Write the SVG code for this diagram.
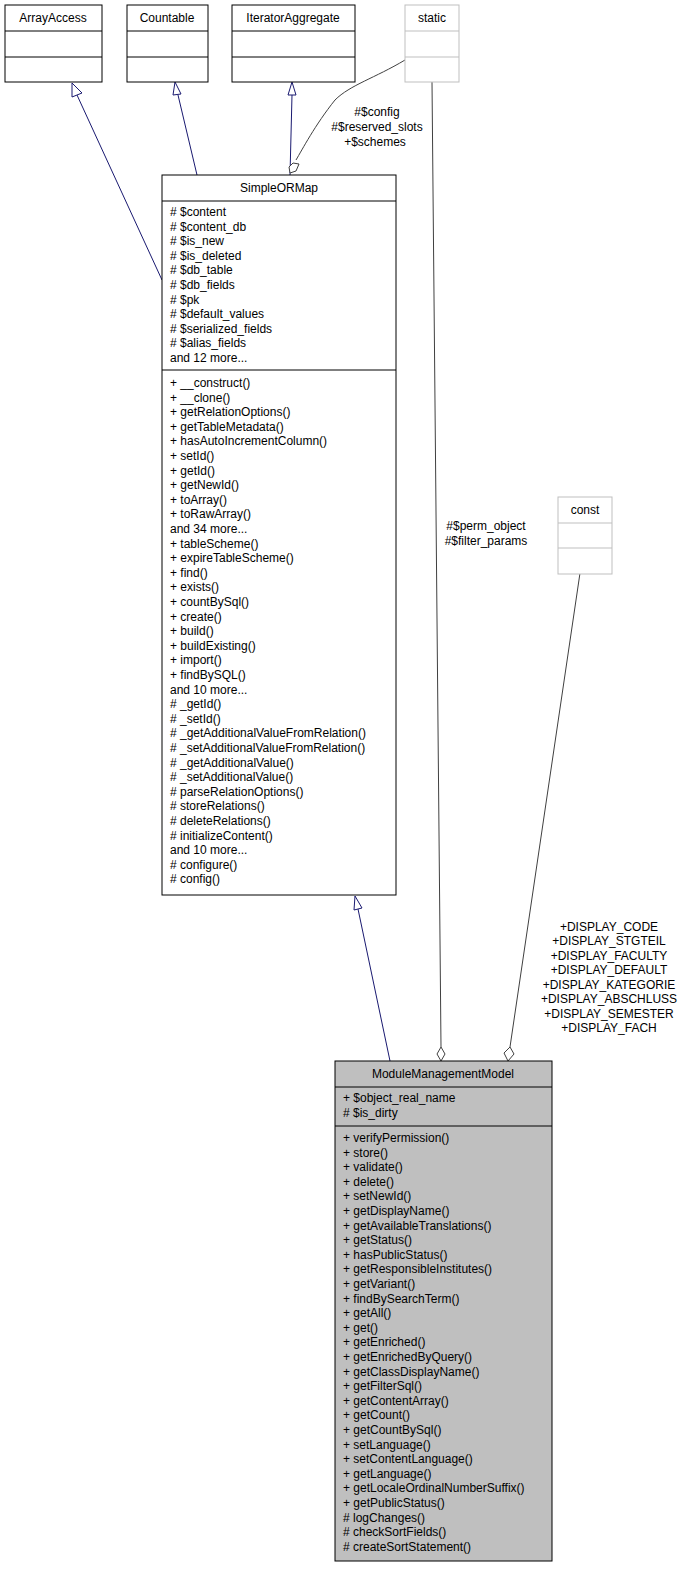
<svg xmlns="http://www.w3.org/2000/svg" width="693" height="1571" viewBox="0 0 693 1571">
<style>
text{font-family:"Liberation Sans",Arial,sans-serif;font-size:12px;fill:#000}
.c{text-anchor:middle}
.b{fill:#fff;stroke:#000;stroke-width:1}
.g{fill:#fff;stroke:#bfbfbf;stroke-width:1}
.m{fill:#bfbfbf;stroke:#000;stroke-width:1}
.i{fill:none;stroke:#191970;stroke-width:1}
.a{fill:none;stroke:#404040;stroke-width:1}
.ih{fill:#fff;stroke:#191970}
.dh{fill:#fff;stroke:#404040}
</style>
<rect width="693" height="1571" fill="#fff"/>
<g id="connectors">
<path class="i" d="M162,280 L77,95"/><polygon class="ih" points="72,83 82,93 72,97"/>
<path class="i" d="M197,175 L178,95"/><polygon class="ih" points="175,82 181,94 173,95"/>
<path class="i" d="M290,175 L292,95"/><polygon class="ih" points="292,82 296,95 288,95"/>
<path class="a" d="M405,60 C375,78 350,85 335,100 C315,125 302,150 296,160"/><polygon class="dh" points="293,163 299,164 296,171 290,173 289,167"/>
<path class="a" d="M432,82 L441,1047"/><polygon class="dh" points="441,1047 445,1054 441,1061 437,1054"/>
<path class="a" d="M580,573 L510,1047"/><polygon class="dh" points="510,1047 514,1054 508,1061 504,1053"/>
<path class="i" d="M390,1061 L358,909"/><polygon class="ih" points="355,896 362,908 354,910"/>
<text class="c" x="377" y="116">#$config</text>
<text class="c" x="377" y="131">#$reserved_slots</text>
<text class="c" x="375" y="146">+$schemes</text>
<text class="c" x="486" y="530">#$perm_object</text>
<text class="c" x="486" y="545">#$filter_params</text>
<text class="c" x="609" y="931">+DISPLAY_CODE</text>
<text class="c" x="609" y="945">+DISPLAY_STGTEIL</text>
<text class="c" x="609" y="960">+DISPLAY_FACULTY</text>
<text class="c" x="609" y="974">+DISPLAY_DEFAULT</text>
<text class="c" x="609" y="989">+DISPLAY_KATEGORIE</text>
<text class="c" x="609" y="1003">+DISPLAY_ABSCHLUSS</text>
<text class="c" x="609" y="1018">+DISPLAY_SEMESTER</text>
<text class="c" x="609" y="1032">+DISPLAY_FACH</text>
</g>
<g id="ArrayAccess"><rect class="b" x="5" y="5" width="97" height="77"/><path d="M5,31H102M5,57H102" stroke="#000"/><text class="c" x="53" y="22">ArrayAccess</text></g>
<g id="Countable"><rect class="b" x="127" y="5" width="81" height="77"/><path d="M127,31H208M127,57H208" stroke="#000"/><text class="c" x="167" y="22">Countable</text></g>
<g id="IteratorAggregate"><rect class="b" x="232" y="5" width="123" height="77"/><path d="M232,31H355M232,57H355" stroke="#000"/><text class="c" x="293" y="22">IteratorAggregate</text></g>
<g id="static"><rect class="g" x="405" y="5" width="54" height="77"/><path d="M405,31H459M405,57H459" stroke="#bfbfbf"/><text class="c" x="432" y="22">static</text></g>
<g id="const"><rect class="g" x="558" y="497" width="54" height="77"/><path d="M558,523H612M558,548H612" stroke="#bfbfbf"/><text class="c" x="585" y="514">const</text></g>
<g id="SimpleORMap"><rect class="b" x="162" y="175" width="234" height="720"/><path d="M162,201H396M162,370H396" stroke="#000"/>
<text class="c" x="279" y="192">SimpleORMap</text>
<text x="170"><tspan x="170" y="216"># $content</tspan><tspan x="170" dy="14.6"># $content_db</tspan><tspan x="170" dy="14.6"># $is_new</tspan><tspan x="170" dy="14.6"># $is_deleted</tspan><tspan x="170" dy="14.6"># $db_table</tspan><tspan x="170" dy="14.6"># $db_fields</tspan><tspan x="170" dy="14.6"># $pk</tspan><tspan x="170" dy="14.6"># $default_values</tspan><tspan x="170" dy="14.6"># $serialized_fields</tspan><tspan x="170" dy="14.6"># $alias_fields</tspan><tspan x="170" dy="14.6">and 12 more...</tspan></text>
<text><tspan x="170" y="387">+ __construct()</tspan><tspan x="170" dy="14.6">+ __clone()</tspan><tspan x="170" dy="14.6">+ getRelationOptions()</tspan><tspan x="170" dy="14.6">+ getTableMetadata()</tspan><tspan x="170" dy="14.6">+ hasAutoIncrementColumn()</tspan><tspan x="170" dy="14.6">+ setId()</tspan><tspan x="170" dy="14.6">+ getId()</tspan><tspan x="170" dy="14.6">+ getNewId()</tspan><tspan x="170" dy="14.6">+ toArray()</tspan><tspan x="170" dy="14.6">+ toRawArray()</tspan><tspan x="170" dy="14.6">and 34 more...</tspan><tspan x="170" dy="14.6">+ tableScheme()</tspan><tspan x="170" dy="14.6">+ expireTableScheme()</tspan><tspan x="170" dy="14.6">+ find()</tspan><tspan x="170" dy="14.6">+ exists()</tspan><tspan x="170" dy="14.6">+ countBySql()</tspan><tspan x="170" dy="14.6">+ create()</tspan><tspan x="170" dy="14.6">+ build()</tspan><tspan x="170" dy="14.6">+ buildExisting()</tspan><tspan x="170" dy="14.6">+ import()</tspan><tspan x="170" dy="14.6">+ findBySQL()</tspan><tspan x="170" dy="14.6">and 10 more...</tspan><tspan x="170" dy="14.6"># _getId()</tspan><tspan x="170" dy="14.6"># _setId()</tspan><tspan x="170" dy="14.6"># _getAdditionalValueFromRelation()</tspan><tspan x="170" dy="14.6"># _setAdditionalValueFromRelation()</tspan><tspan x="170" dy="14.6"># _getAdditionalValue()</tspan><tspan x="170" dy="14.6"># _setAdditionalValue()</tspan><tspan x="170" dy="14.6"># parseRelationOptions()</tspan><tspan x="170" dy="14.6"># storeRelations()</tspan><tspan x="170" dy="14.6"># deleteRelations()</tspan><tspan x="170" dy="14.6"># initializeContent()</tspan><tspan x="170" dy="14.6">and 10 more...</tspan><tspan x="170" dy="14.6"># configure()</tspan><tspan x="170" dy="14.6"># config()</tspan></text>
</g>
<g id="ModuleManagementModel"><rect class="m" x="335" y="1061" width="217" height="500"/><path d="M335,1087H552M335,1126H552" stroke="#000"/>
<text class="c" x="443" y="1078">ModuleManagementModel</text>
<text><tspan x="343" y="1102">+ $object_real_name</tspan><tspan x="343" dy="14.6"># $is_dirty</tspan></text>
<text><tspan x="343" y="1142">+ verifyPermission()</tspan><tspan x="343" dy="14.6">+ store()</tspan><tspan x="343" dy="14.6">+ validate()</tspan><tspan x="343" dy="14.6">+ delete()</tspan><tspan x="343" dy="14.6">+ setNewId()</tspan><tspan x="343" dy="14.6">+ getDisplayName()</tspan><tspan x="343" dy="14.6">+ getAvailableTranslations()</tspan><tspan x="343" dy="14.6">+ getStatus()</tspan><tspan x="343" dy="14.6">+ hasPublicStatus()</tspan><tspan x="343" dy="14.6">+ getResponsibleInstitutes()</tspan><tspan x="343" dy="14.6">+ getVariant()</tspan><tspan x="343" dy="14.6">+ findBySearchTerm()</tspan><tspan x="343" dy="14.6">+ getAll()</tspan><tspan x="343" dy="14.6">+ get()</tspan><tspan x="343" dy="14.6">+ getEnriched()</tspan><tspan x="343" dy="14.6">+ getEnrichedByQuery()</tspan><tspan x="343" dy="14.6">+ getClassDisplayName()</tspan><tspan x="343" dy="14.6">+ getFilterSql()</tspan><tspan x="343" dy="14.6">+ getContentArray()</tspan><tspan x="343" dy="14.6">+ getCount()</tspan><tspan x="343" dy="14.6">+ getCountBySql()</tspan><tspan x="343" dy="14.6">+ setLanguage()</tspan><tspan x="343" dy="14.6">+ setContentLanguage()</tspan><tspan x="343" dy="14.6">+ getLanguage()</tspan><tspan x="343" dy="14.6">+ getLocaleOrdinalNumberSuffix()</tspan><tspan x="343" dy="14.6">+ getPublicStatus()</tspan><tspan x="343" dy="14.6"># logChanges()</tspan><tspan x="343" dy="14.6"># checkSortFields()</tspan><tspan x="343" dy="14.6"># createSortStatement()</tspan></text>
</g>
</svg>
